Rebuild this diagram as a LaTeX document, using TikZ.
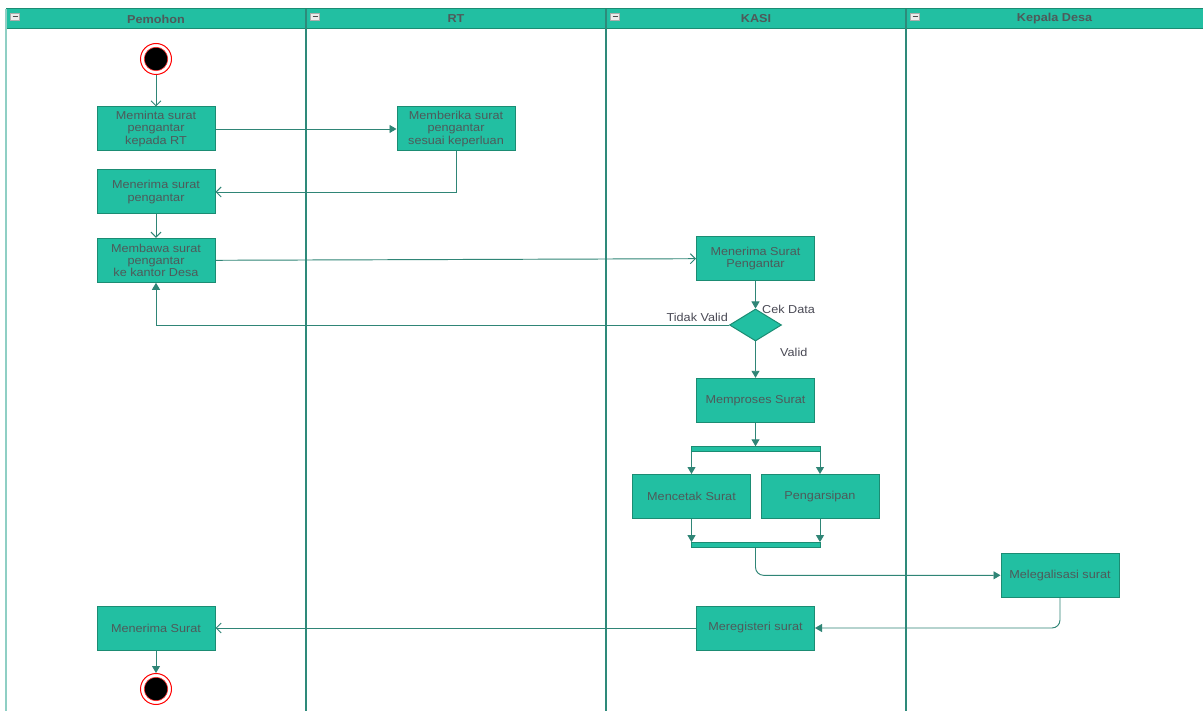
\documentclass[tikz,border=0pt]{standalone}
\usepackage{fontspec}
\setmainfont{Liberation Sans}
\newfontfamily\diafont[FakeStretch=1.1]{Liberation Sans}
\usetikzlibrary{arrows.meta,shapes.geometric}
\definecolor{fillc}{HTML}{22BFA2}
\definecolor{borderc}{HTML}{1B8C73}
\definecolor{textc}{HTML}{4E5A5A}
\definecolor{edgec}{HTML}{2F8576}
\definecolor{lanec}{HTML}{2E8A7A}
\definecolor{lanelight}{HTML}{8FCFC4}
\definecolor{lblc}{HTML}{4A4A55}
\begin{document}
\begin{tikzpicture}[x=1pt,y=-1pt,
  act/.style={draw=borderc, fill=fillc, line width=1pt, minimum width=118pt, minimum height=44pt,
    inner sep=0pt, align=center, text=textc, font=\diafont\fontsize{11.5}{12.3}\selectfont},
  flow/.style={draw=edgec, line width=0.95pt},
  opentip/.style={-{Straight Barb[length=5pt,width=10pt,line width=1pt]}},
  solidtip/.style={-{Triangle[length=7pt,width=8pt]}},
  bar/.style={draw=borderc, fill=fillc, line width=0.8pt, minimum width=129pt, minimum height=5pt, inner sep=0pt},
  hdr/.style={text=textc, font=\diafont\fontsize{11.5}{12}\selectfont\bfseries, inner sep=0pt},
  lbl/.style={text=lblc, font=\diafont\fontsize{11.5}{12}\selectfont, inner sep=0pt},
  startnode/.style={circle, draw=red, line width=1pt, fill=white, minimum size=31pt, inner sep=0pt},
]
\useasboundingbox (0,0) rectangle (1203,711);
\fill[white] (0,0) rectangle (1203,711);

% header band
\draw[fill=fillc, draw=borderc, line width=1pt] (6,9) rectangle (1205,29);
% lane lines
\draw[lanelight, line width=2pt] (6,9) -- (6,711);
\foreach \x in {306,606,906} {\draw[lanec, line width=2pt] (\x,9) -- (\x,711);}
% collapse icons
\foreach \x in {6,306,606,906} {
  \draw[fill=gray!15, draw=gray!65, line width=0.6pt] (\x+4.5,13) rectangle (\x+13.5,20.5);
  \draw[gray!60!black, line width=1.3pt] (\x+6.5,16.8) -- (\x+11.5,16.8);
}
\node[hdr] (h1) at (156,19) {Pemohon};
\node[hdr] (h2) at (456,19) {RT};
\node[hdr] (h3) at (756,19) {KASI};
\node[hdr] (h4) at (1054.5,19) {Kepala Desa};

% start / end
\node[startnode] (start) at (156,59) {};
\fill[black] (start.center) circle (11.5);
\draw[red, line width=0.5pt] (start.center) circle (11.8);

% activities
\node[act] (n1) at (156,129) {Meminta surat\\pengantar\\kepada RT};
\node[act] (n2) at (456,129) {Memberika surat\\pengantar\\sesuai keperluan};
\node[act] (n3) at (156,192) {Menerima surat\\pengantar};
\node[act] (n4) at (156,260.3) {Membawa surat\\pengantar\\ke kantor Desa};
\node[act] (k1) at (755.5,258.7) {Menerima Surat\\Pengantar};
\node[diamond, draw=borderc, fill=fillc, line width=1pt, minimum width=52pt, minimum height=32pt, inner sep=0pt] (d) at (755.5,325) {};
\node[lbl, anchor=west] (cek) at (762,309) {Cek Data};
\node[lbl, anchor=east] (tv) at (728,317.5) {Tidak Valid};
\node[lbl, anchor=west] (val) at (780,352.5) {Valid};
\node[act] (k2) at (755.5,400.3) {Memproses Surat};
\node[bar] (fork) at (755.5,449.2) {};
\node[act] (m1) at (691.5,496.5) {Mencetak Surat};
\node[act] (m2) at (820,496.5) {Pengarsipan};
\node[bar] (join) at (755.5,545) {};
\node[act] (leg) at (1060,575.3) {Melegalisasi surat};
\node[act] (reg) at (755.5,628) {Meregisteri surat};
\node[act] (ms) at (156,628) {Menerima Surat};
\node[startnode] (end) at (156,689) {};
\fill[black] (end.center) circle (11.5);
\draw[red, line width=0.5pt] (end.center) circle (11.8);

% connectors
\draw[flow,opentip] (start) -- (n1);
\draw[flow,solidtip] (n1) -- (n2);
\draw[flow,opentip] (n2.south) |- (n3.east);
\draw[flow,opentip] (n3) -- (n4);
\draw[flow,opentip] (n4.east) -- (k1.west);
\draw[flow,solidtip] (k1) -- (d);
\draw[flow,solidtip] (d.west) -| (n4.south);
\draw[flow,solidtip] (d) -- (k2);
\draw[flow,solidtip] (k2) -- (fork);
\draw[flow,solidtip] (m1.north |- fork.south) -- (m1.north);
\draw[flow,solidtip] (m2.north |- fork.south) -- (m2.north);
\draw[flow,solidtip] (m1.south) -- (m1.south |- join.north);
\draw[flow,solidtip] (m2.south) -- (m2.south |- join.north);
\draw[flow,solidtip,rounded corners=8pt] (join.south) |- (leg.west);
\draw[flow,solidtip,rounded corners=8pt] (leg.south) |- (reg.east);
\draw[flow,opentip] (reg.west) -- (ms.east);
\draw[flow,solidtip] (ms) -- (end);
\end{tikzpicture}
\end{document}
